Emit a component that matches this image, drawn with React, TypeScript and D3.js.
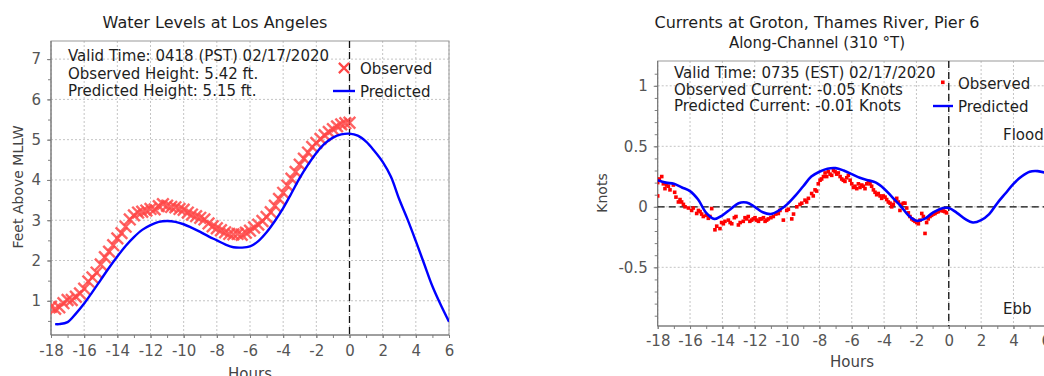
import React, { useEffect, useRef } from 'react';
import * as d3 from 'd3';

const FONT = '"DejaVu Sans", sans-serif';

// Water Levels at Los Angeles (hours from valid time, feet above MLLW)
const laObsHours = [
  -18, -17.75, -17.5, -17.25, -17, -16.75, -16.5, -16.25, -16, -15.75, -15.5, -15.25,
  -15, -14.75, -14.5, -14.25, -14, -13.75, -13.5, -13.25, -13, -12.75, -12.5, -12.25,
  -12, -11.75, -11.5, -11.25, -11, -10.75, -10.5, -10.25, -10, -9.75, -9.5, -9.25,
  -9, -8.75, -8.5, -8.25, -8, -7.75, -7.5, -7.25, -7, -6.75, -6.5, -6.25,
  -6, -5.75, -5.5, -5.25, -5, -4.75, -4.5, -4.25, -4, -3.75, -3.5, -3.25,
  -3, -2.75, -2.5, -2.25, -2, -1.75, -1.5, -1.25, -1, -0.75, -0.5, -0.25, 0,
];
const laObsFeet = [
  0.85, 0.8, 0.84, 0.94, 1.02, 1.02, 1.1, 1.18, 1.3, 1.48, 1.58, 1.7,
  1.9, 2.08, 2.22, 2.38, 2.55, 2.68, 2.84, 3.02, 3.12, 3.19, 3.21, 3.24,
  3.28, 3.27, 3.35, 3.4, 3.36, 3.33, 3.32, 3.28, 3.26, 3.19, 3.14, 3.1,
  3.06, 3.02, 2.92, 2.85, 2.8, 2.75, 2.7, 2.66, 2.65, 2.66, 2.64, 2.69,
  2.74, 2.82, 2.89, 2.98, 3.08, 3.2, 3.36, 3.53, 3.68, 3.86, 4.03, 4.2,
  4.38, 4.53, 4.68, 4.82, 4.92, 5.02, 5.11, 5.19, 5.26, 5.33, 5.38, 5.41, 5.42,
];
const laPredHours = [
  -17.75, -17.5, -17, -16.5, -16, -15.5, -15, -14.5, -14, -13.5, -13, -12.5, -12,
  -11.5, -11, -10.5, -10, -9.5, -9, -8.5, -8, -7.5, -7, -6.5, -6, -5.5, -5, -4.5,
  -4, -3.5, -3, -2.5, -2, -1.5, -1, -0.5, 0, 0.5, 1, 1.5, 2, 2.5, 3, 3.5, 4, 4.5,
  5, 5.5, 6,
];
const laPredFeet = [
  0.42, 0.42, 0.47, 0.68, 0.93, 1.22, 1.52, 1.82, 2.1, 2.36, 2.58, 2.76, 2.88,
  2.96, 2.98, 2.96, 2.9, 2.81, 2.71, 2.6, 2.5, 2.4, 2.33, 2.32, 2.35, 2.48, 2.7, 2.98,
  3.3, 3.67, 4.05, 4.38, 4.67, 4.9, 5.05, 5.13, 5.15, 5.1, 4.95, 4.72, 4.45, 4.08,
  3.52, 3.02, 2.48, 1.92, 1.36, 0.9, 0.48,
];
const laInfo = ['Valid Time: 0418 (PST) 02/17/2020', 'Observed Height: 5.42 ft.', 'Predicted Height: 5.15 ft.'];

// Currents at Groton, Thames River, Pier 6 (knots, along-channel)
const grotonObsHours = [
  -18, -18, -17.9, -17.75, -17.65, -17.55, -17.45, -17.34, -17.24, -17.03, -16.95, -16.87,
  -16.72, -16.62, -16.52, -16.41, -16.31, -16.1, -15.9, -15.8, -15.59, -15.48, -15.38, -15.28,
  -15.18, -15, -14.87, -14.77, -14.66, -14.46, -14.35, -14.15, -14.05, -13.94, -13.84, -13.63,
  -13.52, -13.42, -13.26, -13.16, -13.01, -12.9, -12.71, -12.6, -12.5, -12.4, -12.3, -12.19,
  -12.09, -11.98, -11.88, -11.77, -11.67, -11.57, -11.46, -11.36, -11.26, -11.16, -11, -10.85,
  -10.7, -10.54, -10.44, -10.23, -10.02, -9.92, -9.71, -9.6, -9.4, -9.2, -9.09, -8.89,
  -8.79, -8.68, -8.48, -8.38, -8.27, -8.17, -8.07, -7.96, -7.86, -7.75, -7.65, -7.55,
  -7.45, -7.34, -7.24, -7.13, -7.03, -6.93, -6.83, -6.72, -6.62, -6.52, -6.42, -6.31,
  -6.21, -6.1, -6, -5.9, -5.8, -5.69, -5.59, -5.49, -5.38, -5.28, -5.18, -5.07,
  -4.97, -4.87, -4.77, -4.66, -4.56, -4.46, -4.36, -4.25, -4.15, -4.05, -3.94, -3.84,
  -3.74, -3.63, -3.53, -3.43, -3.32, -3.22, -3.12, -3.02, -2.92, -2.81, -2.71, -2.6,
  -2.5, -2.4, -2.29, -2.19, -2.09, -1.98, -1.88, -1.78, -1.67, -1.57, -1.47, -1.37,
  -1.27, -1.16, -1.06, -0.95, -0.85, -0.75, -0.65, -0.55, -0.44, -0.34, -0.24, -0.14,
];
const grotonObsKnots = [
  0.2, 0.09, 0.23, 0.25, 0.19, 0.15, 0.18, 0.17, 0.14, 0.18, 0.12, 0.08,
  0.04, 0.06, 0.04, 0.02, 0, -0.01, -0.03, -0.01, -0.055, -0.03, -0.04, -0.06,
  -0.08, -0.07, -0.095, -0.08, -0.015, -0.19, -0.16, -0.18, -0.13, -0.14, -0.12, -0.11,
  -0.13, -0.14, -0.09, -0.08, -0.15, -0.13, -0.12, -0.09, -0.1, -0.08, -0.12, -0.11,
  -0.1, -0.09, -0.11, -0.12, -0.1, -0.1, -0.09, -0.12, -0.11, -0.1, -0.09, -0.08,
  -0.06, -0.055, -0.03, -0.11, -0.03, -0.02, -0.1, -0.06, 0, 0.02, 0.03, 0.055,
  0.04, 0.07, 0.11, 0.09, 0.14, 0.13, 0.19, 0.22, 0.23, 0.25, 0.28, 0.25,
  0.29, 0.27, 0.26, 0.3, 0.29, 0.27, 0.28, 0.25, 0.23, 0.22, 0.21, 0.24,
  0.26, 0.22, 0.19, 0.16, 0.17, 0.15, 0.19, 0.16, 0.18, 0.17, 0.15, 0.19,
  0.21, 0.19, 0.17, 0.14, 0.12, 0.1, 0.11, 0.09, 0.07, 0.09, 0.08, 0.06,
  0.04, 0.03, 0, 0.02, 0.05, 0.07, 0.04, -0.03, 0.02, 0.03, 0.03, -0.01,
  -0.05, -0.08, -0.1, -0.11, -0.12, -0.13, -0.14, -0.11, -0.055, -0.08, -0.22, -0.13,
  -0.1, -0.08, -0.07, -0.06, -0.055, -0.045, -0.04, -0.03, -0.03, -0.035, -0.04, -0.05,
];
const grotonPredHours = [
  -18, -17.5, -17, -16.5, -16, -15.5, -15, -14.5, -14, -13.5, -13, -12.5, -12,
  -11.5, -11, -10.5, -10, -9.5, -9, -8.5, -8, -7.5, -7, -6.5, -6, -5.5, -5, -4.5,
  -4, -3.5, -3, -2.5, -2, -1.5, -1, -0.5, 0, 0.5, 1, 1.5, 2, 2.5, 3, 3.5, 4, 4.5,
  5, 5.5, 6,
];
const grotonPredKnots = [
  0.22, 0.2, 0.19, 0.16, 0.13, 0.06, -0.05, -0.1, -0.07, -0.02, 0.03, 0.035, 0,
  -0.045, -0.06, -0.03, 0.02, 0.09, 0.17, 0.25, 0.29, 0.315, 0.32, 0.3, 0.27, 0.24, 0.22, 0.2,
  0.15, 0.08, 0.01, -0.07, -0.115, -0.1, -0.05, -0.015, -0.01, -0.05, -0.1, -0.13, -0.11, -0.06,
  0.03, 0.11, 0.19, 0.25, 0.29, 0.295, 0.28,
];
const grotonInfo = ['Valid Time: 0735 (EST) 02/17/2020', 'Observed Current: -0.05 Knots', 'Predicted Current: -0.01 Knots'];

const hourTicks = [-18, -16, -14, -12, -10, -8, -6, -4, -2, 0, 2, 4, 6];
const hourMinor = d3.range(-18, 6.5, 1);
const feetTicks = [1, 2, 3, 4, 5, 6, 7];
const feetMinor = d3.range(0.5, 7.5, 0.5);
const knotTicks = [-0.5, 0, 0.5, 1];
const knotMinor = d3.range(-0.9, 1.15, 0.1);

const OBS_RED = 'rgb(255,70,70)';
const PRED_BLUE = '#0000ff';
const TEXT = '#1e1e1e';
const TICK_TEXT = '#555';

function drawFrame(g, x, y, id, yTicks, yMinor, xPad, yPad) {
  const [x0, x1] = x.range();
  const [y0, y1] = y.range();

  g.append('clipPath').attr('id', id)
    .append('rect').attr('x', x0).attr('y', y1).attr('width', x1 - x0).attr('height', y0 - y1);

  // grid
  g.append('g').selectAll('line').data(hourTicks).join('line')
    .attr('x1', (d) => x(d)).attr('x2', (d) => x(d)).attr('y1', y1).attr('y2', y0)
    .attr('stroke', '#c4c4c4').attr('stroke-dasharray', '2,2');
  g.append('g').selectAll('line').data(yTicks).join('line')
    .attr('x1', x0).attr('x2', x1).attr('y1', (d) => y(d)).attr('y2', (d) => y(d))
    .attr('stroke', '#c4c4c4').attr('stroke-dasharray', '2,2');

  g.append('rect').attr('x', x0).attr('y', y1).attr('width', x1 - x0).attr('height', y0 - y1)
    .attr('fill', 'none').attr('stroke', '#9a9a9a');

  const styleAxis = (a) => {
    a.select('.domain').remove();
    a.attr('font-family', FONT).attr('font-size', 15);
    a.selectAll('line').attr('stroke', '#808080');
    a.selectAll('text').attr('fill', TICK_TEXT);
  };

  g.append('g').attr('transform', `translate(0,${y0})`)
    .call(d3.axisBottom(x).tickValues(hourMinor).tickSize(3).tickFormat(() => ''))
    .call(styleAxis);
  g.append('g').attr('transform', `translate(0,${y0})`)
    .call(d3.axisBottom(x).tickValues(hourTicks).tickSize(3).tickPadding(xPad).tickFormat((d) => String(d)))
    .call(styleAxis);
  g.append('g').attr('transform', `translate(${x0},0)`)
    .call(d3.axisLeft(y).tickValues(yMinor).tickSize(3).tickFormat(() => ''))
    .call(styleAxis);
  g.append('g').attr('transform', `translate(${x0},0)`)
    .call(d3.axisLeft(y).tickValues(yTicks).tickSize(4).tickPadding(yPad).tickFormat((d) => String(d)))
    .call(styleAxis);

  g.append('line').attr('x1', x0).attr('x2', x1).attr('y1', y0).attr('y2', y0).attr('stroke', '#707070');
  g.append('line').attr('x1', x0).attr('x2', x0).attr('y1', y1).attr('y2', y0).attr('stroke', '#707070');

  // valid-time marker
  g.append('line').attr('x1', x(0)).attr('x2', x(0)).attr('y1', y1).attr('y2', y0)
    .attr('stroke', '#111').attr('stroke-width', 1.3).attr('stroke-dasharray', '7,4');
}

function addText(g, x, y, s, size, anchor = 'start', fill = TEXT) {
  return g.append('text').attr('x', x).attr('y', y).attr('text-anchor', anchor)
    .attr('font-family', FONT).attr('font-size', size).attr('fill', fill).text(s);
}

export default function App() {
  const ref = useRef(null);

  useEffect(() => {
    const el = ref.current;
    if (!el) return;
    el.innerHTML = '';
    const svg = d3.select(el).append('svg')
      .attr('width', 1044).attr('height', 376)
      .style('position', 'absolute').style('left', 0).style('top', 0)
      .style('background', '#fff');

    // ---------- Los Angeles ----------
    const la = svg.append('g');
    const xL = d3.scaleLinear().domain([-18, 6]).range([51, 449]);
    const yL = d3.scaleLinear().domain([0.15, 7.45]).range([335, 41]);
    drawFrame(la, xL, yL, 'clip-la', feetTicks, feetMinor, 7, 6);

    const laObs = laObsHours.map((h, i) => [h, laObsFeet[i]]);
    la.append('g').attr('clip-path', 'url(#clip-la)').selectAll('path').data(laObs).join('path')
      .attr('transform', (d) => `translate(${xL(d[0])},${yL(d[1])})`)
      .attr('d', d3.symbol(d3.symbolTimes, 90)())
      .attr('stroke', OBS_RED).attr('stroke-width', 2.4).attr('fill', 'none').attr('opacity', 0.85);

    const laPred = laPredHours.map((h, i) => [h, laPredFeet[i]]);
    la.append('path').datum(laPred).attr('clip-path', 'url(#clip-la)')
      .attr('d', d3.line().x((d) => xL(d[0])).y((d) => yL(d[1])).curve(d3.curveCatmullRom))
      .attr('fill', 'none').attr('stroke', PRED_BLUE).attr('stroke-width', 2.4);

    laInfo.forEach((s, i) => addText(la, 68, 61 + i * 17.5, s, 15));
    la.append('path').attr('transform', 'translate(344,68)')
      .attr('d', d3.symbol(d3.symbolTimes, 70)())
      .attr('stroke', OBS_RED).attr('stroke-width', 2.2).attr('fill', 'none');
    addText(la, 360, 74, 'Observed', 15);
    la.append('line').attr('x1', 333).attr('x2', 355).attr('y1', 91).attr('y2', 91)
      .attr('stroke', PRED_BLUE).attr('stroke-width', 2.4);
    addText(la, 360, 97, 'Predicted', 15);

    addText(la, 215, 28, 'Water Levels at Los Angeles', 16, 'middle');
    addText(la, 250, 379, 'Hours', 15, 'middle', '#444');
    addText(la, 0, 0, 'Feet Above MLLW', 14, 'middle', '#444')
      .attr('transform', 'translate(23,187) rotate(-90)');

    // ---------- Groton ----------
    const gr = svg.append('g');
    const xR = d3.scaleLinear().domain([-18, 6]).range([657.7, 1045.8]);
    const yR = d3.scaleLinear().domain([-0.985, 1.205]).range([326, 61]);
    drawFrame(gr, xR, yR, 'clip-gr', knotTicks, knotMinor, 6.4, 6);

    gr.append('line').attr('x1', xR(-18)).attr('x2', xR(6)).attr('y1', yR(0)).attr('y2', yR(0))
      .attr('stroke', '#111').attr('stroke-width', 1.3).attr('stroke-dasharray', '7,4');

    const grObs = grotonObsHours.map((h, i) => [h, grotonObsKnots[i]]);
    gr.append('g').attr('clip-path', 'url(#clip-gr)').selectAll('rect').data(grObs).join('rect')
      .attr('x', (d) => xR(d[0]) - 1.8).attr('y', (d) => yR(d[1]) - 1.8)
      .attr('width', 3.6).attr('height', 3.6).attr('fill', '#ff0000');

    const grPred = grotonPredHours.map((h, i) => [h, grotonPredKnots[i]]);
    gr.append('path').datum(grPred).attr('clip-path', 'url(#clip-gr)')
      .attr('d', d3.line().x((d) => xR(d[0])).y((d) => yR(d[1])).curve(d3.curveCatmullRom))
      .attr('fill', 'none').attr('stroke', PRED_BLUE).attr('stroke-width', 2.6);

    grotonInfo.forEach((s, i) => addText(gr, 674, 78 + i * 16.7, s, 15));
    gr.append('rect').attr('x', 941).attr('y', 80.5).attr('width', 3.6).attr('height', 3.6).attr('fill', '#ff0000');
    addText(gr, 958, 88.5, 'Observed', 15);
    gr.append('line').attr('x1', 933).attr('x2', 953).attr('y1', 106).attr('y2', 106)
      .attr('stroke', PRED_BLUE).attr('stroke-width', 2.4);
    addText(gr, 958, 112, 'Predicted', 15);
    addText(gr, 1003, 140, 'Flood', 15);
    addText(gr, 1003, 314, 'Ebb', 15);

    addText(gr, 817, 28, 'Currents at Groton, Thames River, Pier 6', 16, 'middle');
    addText(gr, 817, 48, 'Along-Channel (310 °T)', 15, 'middle');
    addText(gr, 852, 367, 'Hours', 15, 'middle', '#444');
    addText(gr, 0, 0, 'Knots', 14, 'middle', '#444')
      .attr('transform', 'translate(607,193) rotate(-90)');

    return () => {
      el.innerHTML = '';
    };
  }, []);

  return <div ref={ref} />;
}
